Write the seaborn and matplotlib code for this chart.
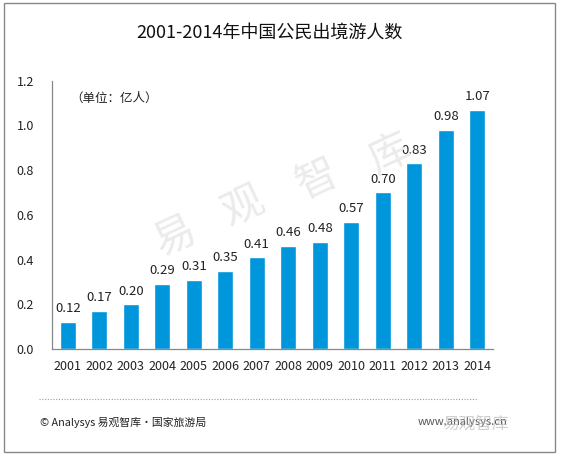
import matplotlib
matplotlib.use("Agg")
import matplotlib.pyplot as plt
import matplotlib.patches as mpatches
import seaborn as sns
import pandas as pd

years = ["2001", "2002", "2003", "2004", "2005", "2006", "2007",
         "2008", "2009", "2010", "2011", "2012", "2013", "2014"]
values = [0.12, 0.17, 0.20, 0.29, 0.31, 0.35, 0.41,
          0.46, 0.48, 0.57, 0.70, 0.83, 0.98, 1.07]
yticks = [0.0, 0.2, 0.4, 0.6, 0.8, 1.0, 1.2]
watermark_chars = ["易", "观", "智", "库"]

sns.set_theme(style="white")
plt.rcParams['font.family'] = ['Noto Sans CJK SC', 'DejaVu Sans']

W, H = 561, 461
fig = plt.figure(figsize=(W / 100, H / 100), dpi=100)
fig.patch.set_facecolor("white")

def fx(px):
    return px / W

def fy(py):
    return 1 - py / H

# watermark (behind the chart)
wm_pos = [(175, 237), (243, 207), (317, 180), (390, 155)]
for ch, (px, py) in zip(watermark_chars, wm_pos):
    fig.text(fx(px), fy(py), ch, fontsize=30, color="#ebebeb",
             rotation=25, ha="center", va="center", zorder=0)

ax = fig.add_axes([fx(52), fy(349), fx(493) - fx(52), fy(80.7) - fy(349)])
ax.patch.set_alpha(0)
df = pd.DataFrame({"year": years, "value": values})
sns.barplot(data=df, x="year", y="value", color="#0096dc", saturation=1,
            width=0.5, ax=ax)
ax.set_xlim(-0.5, len(years) - 0.5)
ax.set_ylim(0, 1.2)
ax.set_yticks(yticks)
ax.set_yticklabels([f"{t:.1f}" for t in yticks], fontsize=9, color="#222222")
ax.tick_params(axis="y", direction="in", length=3, width=0.8, color="#888888", pad=13)
ax.tick_params(axis="x", length=0, pad=8, labelsize=9, labelcolor="#222222")
ax.set_xlabel("")
ax.set_ylabel("")
for s in ["top", "right"]:
    ax.spines[s].set_visible(False)
for s in ["left", "bottom"]:
    ax.spines[s].set_color("#888888")
    ax.spines[s].set_linewidth(0.9)

for i, v in enumerate(values):
    ax.text(i, v + 0.03, f"{v:.2f}", ha="center", va="bottom", fontsize=9.5,
            color="#222222")

fig.text(fx(270), fy(33), "2001-2014年中国公民出境游人数", ha="center", va="center",
         fontsize=13, color="#111111")
fig.text(fx(70), fy(98), "（单位：亿人）", ha="left", va="center", fontsize=9,
         color="#222222")

# footer
fig.add_artist(plt.Line2D([fx(39), fx(478)], [fy(399), fy(399)], color="#999999",
                          linestyle=(0, (1, 1.5)), linewidth=0.8))
fig.text(fx(40), fy(422), "© Analysys 易观智库·国家旅游局", ha="left", va="center",
         fontsize=7.8, color="#222222")
fig.text(fx(418), fy(422), "www.analysys.cn", ha="left", va="center",
         fontsize=8, color="#555555")
fig.text(fx(442), fy(424), "易观智库", ha="left", va="center",
         fontsize=12, color="#bbbbbb", alpha=0.7)

# frame
fig.add_artist(mpatches.Rectangle((fx(4), fy(452)), fx(555) - fx(4), fy(3) - fy(452),
                                  fill=False, edgecolor="#888888", linewidth=1.0,
                                  transform=fig.transFigure))

fig.savefig("out.png", dpi=100, facecolor="white")
